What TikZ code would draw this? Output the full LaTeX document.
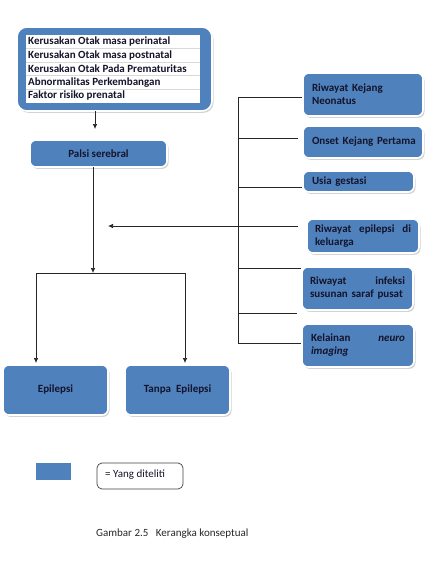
\documentclass[tikz,border=0pt]{standalone}
\usepackage{fontspec}
\setmainfont{Carlito}
\usetikzlibrary{shadows,arrows.meta}
\definecolor{obox}{HTML}{4F81BD}
\definecolor{otext}{HTML}{14142A}
\hyphenpenalty=10000
\hbadness=10000
\hfuzz=50pt
\begin{document}
\begin{tikzpicture}[x=1pt,y=-1pt,
  bluebox/.style={draw=white,line width=1.6pt,fill=obox,rounded corners=6pt,
    drop shadow={shadow xshift=1.5pt,shadow yshift=-1.8pt,opacity=0.35},
    font=\bfseries\fontsize{11}{13}\selectfont,text=otext,inner sep=0pt},
  rowtext/.style={font=\bfseries\fontsize{11}{12}\selectfont,text=otext,anchor=west,inner sep=0pt},
  line/.style={draw=black!85,line width=0.7pt},
  arr/.style={line,-{Latex[length=5pt,width=4.5pt]}}]
\useasboundingbox (0,0) rectangle (429,568);
% top box
\node[bluebox,rounded corners=10pt,minimum width=195pt,minimum height=84pt] (top) at (114.5,69) {};
\node[fill=white,draw=none,minimum width=174pt,minimum height=68pt,inner sep=0pt] (inner) at (113,69) {};
\foreach \yy in {48.5,62,75.5,89}{\draw[black!15,line width=0.5pt] (26,\yy) -- (200,\yy);}
\node[rowtext] (r1) at (28,42) {Kerusakan Otak masa perinatal};
\node[rowtext] (r2) at (28,55.5) {Kerusakan Otak masa postnatal};
\node[rowtext] (r3) at (28,69) {Kerusakan Otak Pada Prematuritas};
\node[rowtext] (r4) at (28,82.5) {Abnormalitas Perkembangan};
\node[rowtext] (r5) at (28,96) {Faktor risiko prenatal};
% palsi
\node[bluebox,minimum width=137pt,minimum height=27pt] (palsi) at (98.5,153.5) {Palsi serebral};
% outcomes
\node[bluebox,minimum width=105pt,minimum height=50pt] (epi) at (55.5,390) {Epilepsi};
\node[bluebox,minimum width=105pt,minimum height=50pt] (tanpa) at (177.5,390) {Tanpa\ \ Epilepsi};
% right boxes
\node[bluebox,minimum width=120pt,minimum height=43pt,text width=102pt,align=left] (b1) at (363,94.5) {Riwayat Kejang\\Neonatus};
\node[bluebox,minimum width=120pt,minimum height=32pt,text width=102pt,align=left] (b2) at (363,142) {\mbox{Onset Kejang Pertama}};
\node[bluebox,minimum width=111pt,minimum height=21pt,text width=93pt,align=left] (b3) at (358.5,181.5) {Usia gestasi};
\node[bluebox,minimum width=112pt,minimum height=34pt,text width=96pt,align=left] (b4) at (363,236) {Riwayat \hfill epilepsi \hfill di\\keluarga};
\node[bluebox,minimum width=111pt,minimum height=43pt,text width=95pt,align=left] (b5) at (357.5,288.5) {Riwayat \hfill infeksi\\susunan saraf pusat};
\node[bluebox,minimum width=112pt,minimum height=43pt,text width=94pt,align=left] (b6) at (358,345.5) {Kelainan \hfill \textit{neuro}\\\textit{imaging}};
% legend
\node[draw=white,line width=1.2pt,fill=obox,minimum width=37pt,minimum height=19pt,inner sep=0pt,
  drop shadow={shadow xshift=1.2pt,shadow yshift=-1.2pt,opacity=0.3}] (leg) at (53.5,471.5) {};
\node[draw=black!75,line width=0.7pt,rounded corners=5pt,minimum width=86pt,minimum height=26pt,inner sep=0pt] (legt) at (140,476) {};
\node[anchor=west,inner sep=0pt,font=\fontsize{11}{12}\selectfont,text=otext] (legl) at (105,475) {= Yang diteliti};
\node[anchor=west,inner sep=0pt,font=\fontsize{11}{12}\selectfont,text=black!85] (cap) at (96,534) {Gambar 2.5\ \ \ Kerangka konseptual};
% connectors
\coordinate (t1) at (95,111);
\coordinate (t2) at (95,129);
\draw[arr] (t1) -- (t2);
\coordinate (p1) at (93,167);
\coordinate (p2) at (93,273);
\draw[arr] (p1) -- (p2);
\coordinate (bl) at (36,273);
\coordinate (br) at (185,273);
\draw[line] (bl) -- (br);
\draw[arr] (bl) -- (36,363);
\draw[arr] (br) -- (185,363);
% spine
\coordinate (s0) at (238,97);
\coordinate (s6) at (238,343);
\draw[line] (s0) -- (s6);
\draw[line] (s0) -- (s0 -| b1.west);
\coordinate (s1) at (238,138);
\draw[line] (s1) -- ([xshift=-4pt]s1 -| b2.west);
\coordinate (s2) at (238,187);
\draw[line] (s2) -- (s2 -| b3.west);
\coordinate (s3) at (298,226);
\coordinate (ah) at (108,226);
\draw[arr] (s3) -- (ah);
\coordinate (s4) at (238,268);
\draw[line] (s4) -- (s4 -| b5.west);
\coordinate (s5) at (238,313);
\draw[line] (s5) -- ([xshift=-4pt]s5 -| b5.west);
\draw[line] (s6) -- (s6 -| b6.west);
\end{tikzpicture}
\end{document}
